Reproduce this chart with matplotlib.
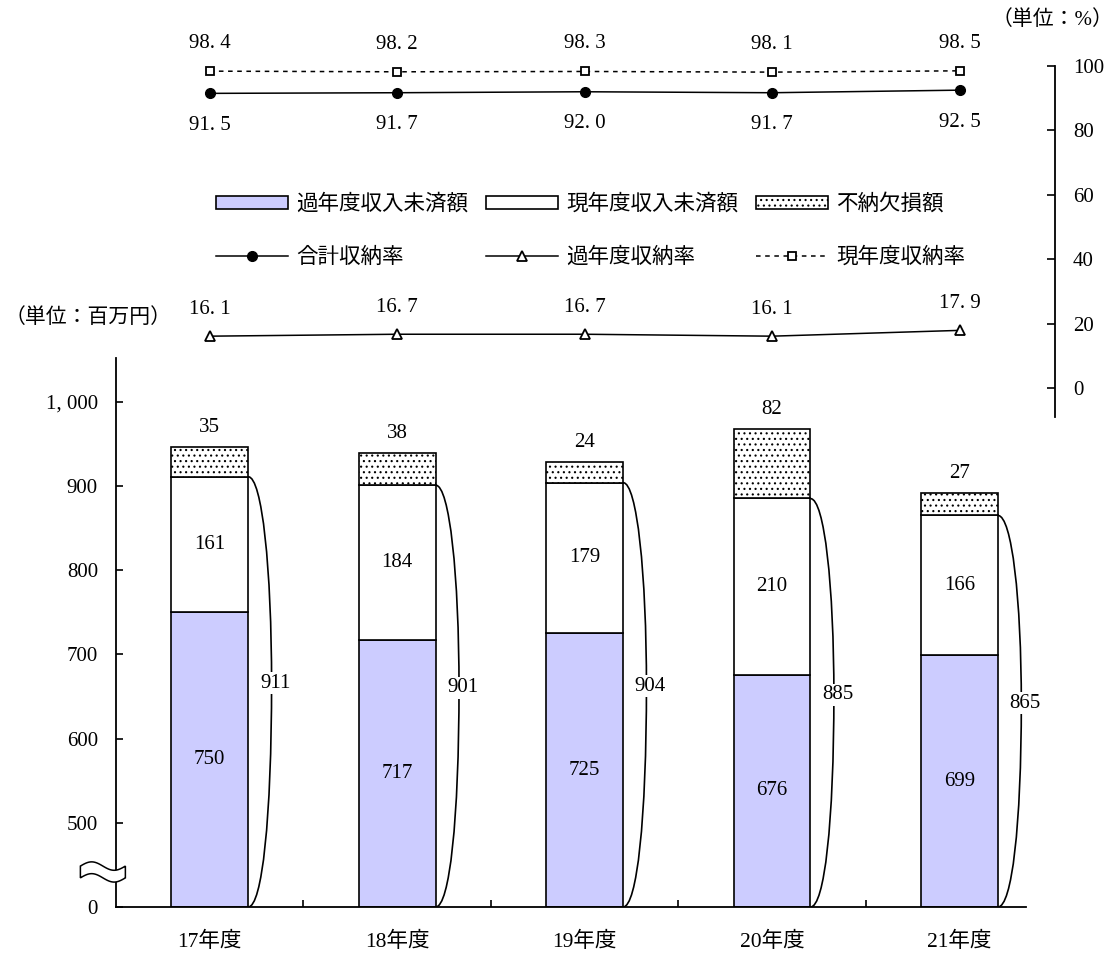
import numpy as np
import matplotlib.pyplot as plt
from matplotlib.patches import Patch, PathPatch, Polygon
from matplotlib.path import Path
from matplotlib.lines import Line2D

plt.rcParams['font.family'] = ['Liberation Serif', 'Noto Sans CJK JP']
plt.rcParams['hatch.linewidth'] = 0.8

years = ['17年度', '18年度', '19年度', '20年度', '21年度']
past_unpaid = np.array([750, 717, 725, 676, 699])    # 過年度収入未済額
curr_unpaid = np.array([161, 184, 179, 210, 166])    # 現年度収入未済額
written_off = np.array([35, 38, 24, 82, 27])         # 不納欠損額
unpaid_total = np.array([911, 901, 904, 885, 865])   # 収入未済額 計

rate_curr = [98.4, 98.2, 98.3, 98.1, 98.5]    # 現年度収納率
rate_total = [91.5, 91.7, 92.0, 91.7, 92.5]   # 合計収納率
rate_past = [16.1, 16.7, 16.7, 16.1, 17.9]    # 過年度収納率

yticks_amt = [0, 500, 600, 700, 800, 900, 1000]


def brk(v):
    # broken axis: 0-500 squeezed into the height of 100
    v = np.asarray(v, dtype=float)
    return np.where(v <= 500, v * 100 / 500, v - 400)


def pct(v):
    # mincho-style spacing after the decimal point
    return f'{v:.1f}'.replace('.', '. ')


W, H = 1113, 958


def fx(px):
    return px / W


def fy(py):
    return 1 - py / H


fig = plt.figure(figsize=(W / 100, H / 100), dpi=100)
fs = 15
blue = '#ccccff'
lw = 1.2

# ---- bars ----
ax = fig.add_axes([fx(116), fy(907), fx(1026) - fx(116), fy(358) - fy(907)])
x = np.arange(len(years))
bw = 0.41
lo = brk(past_unpaid)
mid = brk(past_unpaid + curr_unpaid)
top = brk(past_unpaid + curr_unpaid + written_off)
ax.bar(x, lo, bw, color=blue, edgecolor='black', linewidth=lw)
ax.bar(x, mid - lo, bw, bottom=lo, color='white', edgecolor='black', linewidth=lw)
ax.bar(x, top - mid, bw, bottom=mid, color='white', edgecolor='black',
       linewidth=lw, hatch='...')

for i in range(len(years)):
    ax.text(x[i], lo[i] / 2, str(past_unpaid[i]), ha='center', va='center', fontsize=fs)
    ax.text(x[i], (lo[i] + mid[i]) / 2, str(curr_unpaid[i]), ha='center', va='center', fontsize=fs)
    ax.annotate(str(written_off[i]), (x[i], top[i]), xytext=(0, 14),
                textcoords='offset points', ha='center', va='center', fontsize=fs)

    # bracket for the unpaid total
    xr = x[i] + bw / 2
    d = 0.125
    xb = xr + d
    t = brk(unpaid_total[i])
    m = t * 0.52
    verts = [(xr, t), (xr + 0.6 * d, t), (xb, t - 0.45 * (t - m)), (xb, m),
             (xb, 0.4 * m), (xr + 0.6 * d, 0), (xr, 0)]
    codes = [Path.MOVETO] + [Path.CURVE4] * 6
    ax.add_patch(PathPatch(Path(verts, codes), fill=False, lw=1.2, zorder=3))
    ax.text(xb + 0.02, m, str(unpaid_total[i]), ha='center', va='center', fontsize=fs,
            zorder=4, bbox=dict(facecolor='white', edgecolor='none', pad=1))

ax.set_xlim(-0.5, 4.355)
ax.set_ylim(0, 652)
ax.set_yticks(brk(yticks_amt))
ax.set_yticklabels(['{:,}'.format(v).replace(',', ', ') for v in yticks_amt])
ax.set_xticks(x)
ax.set_xticklabels(years)
ax.set_xticks(x[:-1] + 0.5, minor=True)
ax.tick_params(axis='y', direction='in', length=5, width=1.2, pad=13, labelsize=fs)
ax.tick_params(axis='x', which='major', length=0, pad=18, labelsize=fs + 0.5)
ax.tick_params(axis='x', which='minor', direction='in', length=5, width=1.2)
for s in ['top', 'right']:
    ax.spines[s].set_visible(False)
for s in ['left', 'bottom']:
    ax.spines[s].set_linewidth(1.3)

# wavy break mark on the left axis
tt = np.linspace(0, 1, 80)
bx = -0.69 + tt * 0.24
wave = 5 * np.sin(2 * np.pi * tt)
c = 41.6
pts = np.concatenate([np.column_stack([bx, c + 7 + wave]),
                      np.column_stack([bx[::-1], (c - 7 + wave)[::-1]])])
ax.add_patch(Polygon(pts, closed=True, facecolor='white', edgecolor='black',
                     lw=1.1, clip_on=False, zorder=6))

# ---- rates ----
ax2 = fig.add_axes([fx(116), fy(417), fx(1055) - fx(116), fy(66) - fy(417)])
ax2.patch.set_visible(False)
ax2.set_xlim(-0.5, 4.509)
ax2.set_ylim(-9, 100)
for s in ['top', 'left', 'bottom']:
    ax2.spines[s].set_visible(False)
ax2.spines['right'].set_linewidth(1.3)
ax2.yaxis.tick_right()
ax2.set_yticks(range(0, 101, 20))
ax2.set_xticks([])
ax2.tick_params(axis='y', direction='in', length=6, width=1.2, pad=13, labelsize=fs)

ax2.plot(x, rate_curr, color='black', lw=1.1, ls=(0, (3, 3)), marker='s', ms=6,
         mfc='white', mec='black', mew=1.3)
ax2.plot(x, rate_total, color='black', lw=1.1, marker='o', ms=7)
ax2.plot(x, rate_past, color='black', lw=1.1, marker='^', ms=7, mfc='white', mew=1.3)

for i in range(len(years)):
    ax2.annotate(pct(rate_curr[i]), (x[i], rate_curr[i]), xytext=(0, 20),
                 textcoords='offset points', ha='center', va='center', fontsize=fs)
    ax2.annotate(pct(rate_total[i]), (x[i], rate_total[i]), xytext=(0, -23),
                 textcoords='offset points', ha='center', va='center', fontsize=fs)
    ax2.annotate(pct(rate_past[i]), (x[i], rate_past[i]), xytext=(0, 19),
                 textcoords='offset points', ha='center', va='center', fontsize=fs)

# ---- legend ----
h1 = Patch(facecolor=blue, edgecolor='black', lw=lw)
h2 = Patch(facecolor='white', edgecolor='black', lw=lw)
h3 = Patch(facecolor='white', edgecolor='black', lw=lw, hatch='...')
h4 = Line2D([], [], color='black', lw=1.1, marker='o', ms=7)
h5 = Line2D([], [], color='black', lw=1.1, marker='^', ms=7, mfc='white', mew=1.3)
h6 = Line2D([], [], color='black', lw=1.1, ls=(0, (3, 3)), marker='s', ms=6,
            mfc='white', mew=1.3)
handles = [h1, h4, h2, h5, h3, h6]
labels = ['過年度収入未済額', '合計収納率', '現年度収入未済額', '過年度収納率',
          '不納欠損額', '現年度収納率']
fig.legend(handles, labels, ncol=3, loc='upper left',
           bbox_to_anchor=(fx(216), fy(193)), frameon=False, borderpad=0,
           borderaxespad=0, prop={'family': 'Noto Sans CJK JP', 'size': 15.5},
           handlelength=3.35, handleheight=0.55, handletextpad=0.37,
           columnspacing=0.84, labelspacing=1.45, numpoints=1)

fig.text(fx(5), fy(318), '（単位：百万円）', ha='left', va='center', fontsize=fs)
fig.text(fx(1113), fy(20), '（単位：%）', ha='right', va='center', fontsize=fs)

fig.savefig('out.png', dpi=100)
